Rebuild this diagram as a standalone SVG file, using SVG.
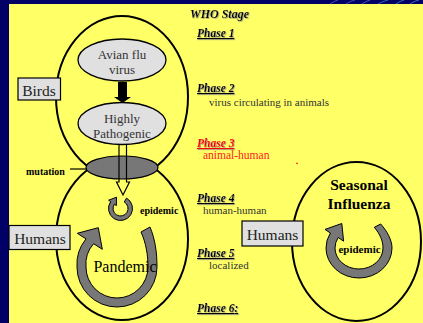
<svg xmlns="http://www.w3.org/2000/svg" width="423" height="323" viewBox="0 0 423 323">
<defs>
<filter id="sh" x="-10%" y="-30%" width="130%" height="180%">
<feDropShadow dx="0.8" dy="0.8" stdDeviation="0.3" flood-color="#888" flood-opacity="0.8"/>
</filter>
</defs>
<style>
.serif{font-family:"Liberation Serif","Times New Roman",serif}
.big{fill:none;stroke:#000;stroke-width:2}
.node{fill:#e0e0e0;stroke:#000;stroke-width:1.3}
.lbl{font-family:"Liberation Serif","Times New Roman",serif;font-size:13px;fill:#333;text-anchor:middle}
.box{fill:#e0e0e0;stroke:#000;stroke-width:1.2}
.boxt{font-family:"Liberation Serif","Times New Roman",serif;font-size:15.5px;fill:#222}
.ph{font-family:"Liberation Serif","Times New Roman",serif;font-size:11.5px;font-weight:bold;font-style:italic;text-decoration:underline;fill:#000}
.desc{font-family:"Liberation Serif","Times New Roman",serif;font-size:11px;fill:#333}
.ring{fill:#777;stroke:#000;stroke-width:1}
.bsm{font-family:"Liberation Serif","Times New Roman",serif;font-weight:bold;fill:#000}
</style>
<rect x="0" y="0" width="423" height="323" fill="#000066"/>
<g stroke-width="0.8" fill="none" opacity="0.7">
<path d="M330,4 Q334,1 338,0" stroke="#9977dd"/>
<path d="M346,4 Q350,1 355,0" stroke="#9977dd"/>
<path d="M362,4 Q366,1 370,0" stroke="#8899ee"/>
<path d="M378,4 Q383,1 388,0" stroke="#55bbdd"/>
<path d="M396,4 Q400,1 404,0" stroke="#55ccdd"/>
<path d="M410,4 Q414,1 419,0" stroke="#66ccdd"/>
</g>
<rect x="9" y="4" width="414" height="319" fill="#ffff66"/>

<g id="birds-region">
<ellipse class="big" cx="122" cy="97" rx="66" ry="81"/>
</g>
<g id="humans-region">
<ellipse class="big" cx="122" cy="239" rx="66" ry="81"/>
</g>
<g id="seasonal-region">
<ellipse class="big" cx="356.5" cy="241.5" rx="64.5" ry="79.5"/>
<text class="bsm" font-size="15.5px" x="359" y="190" text-anchor="middle">Seasonal</text>
<text class="bsm" font-size="15.5px" x="359" y="209" text-anchor="middle">Influenza</text>
</g>

<g id="mutation">
<ellipse cx="122" cy="167.5" rx="36" ry="11.5" fill="#777" stroke="#000" stroke-width="1.2"/>
<text class="bsm" font-size="10px" x="26" y="175">mutation</text>
</g>

<g id="avian">
<ellipse class="node" cx="122" cy="60" rx="44" ry="21"/>
<text class="lbl" x="122" y="59">Avian flu</text>
<text class="lbl" x="122" y="74">virus</text>
</g>
<g id="pathogenic">
<ellipse class="node" cx="122" cy="123.5" rx="44" ry="21"/>
<text class="lbl" x="122" y="123">Highly</text>
<text class="lbl" x="122" y="138">Pathogenic</text>
</g>

<g id="birds-box">
<rect class="box" x="18" y="78" width="42.5" height="22"/>
<text class="boxt" x="39" y="95.5" text-anchor="middle">Birds</text>
</g>
<g id="humans-box-left">
<rect class="box" x="9" y="225.5" width="61" height="24"/>
<text class="boxt" x="40" y="244" text-anchor="middle">Humans</text>
</g>
<g id="humans-box-right">
<rect class="box" x="242" y="221" width="61" height="25"/>
<text class="boxt" x="272.5" y="240" text-anchor="middle">Humans</text>
</g>

<g id="connectors">
<path d="M118,82 L127,82 L127,97 L131,97 L122.5,103 L114,97 L118,97 Z" fill="#000"/>
<path d="M119,145 L119,182 L116.5,182 L123,195 L129.5,182 L126.5,182 L126.5,145" fill="none" stroke="#000" stroke-width="1.2"/>
<line x1="70" y1="169" x2="87" y2="169" stroke="#000" stroke-width="1.2"/>
</g>

<g id="epidemic-left">
<path class="ring" d="M126.5,198.1 A12,12 0 1,1 110.7,201.6 L108.6,200.2 L116.5,197.2 L116.4,205.6 L114.4,204.2 A7.5,7.5 0 1,0 124.25,202 Z"/>
<text class="bsm" font-size="10px" x="140" y="214">epidemic</text>
</g>

<g id="pandemic">
<path class="ring" d="M150,227 C155,239 157,252 157,267 A40,40 0 0,1 117,307 A40,40 0 0,1 77,267 A40,40 0 0,1 86,238.9 L77.3,233.3 L98.3,227.7 L102.3,249.3 L93.6,243.7 A31,31 0 0,0 86,267 A31,31 0 0,0 117,298 A31,31 0 0,0 148,267 C148,255 146,243 141,232 Z"/>
<text class="serif" font-size="16px" x="125" y="272" text-anchor="middle" fill="#000">Pandemic</text>
</g>

<g id="epidemic-right">
<path class="ring" d="M380.7,224 C387,231 392,240 392,248 A33,30 0 0,1 359,278 A33,30 0 0,1 326,248 A33,30 0 0,1 330.4,233 L325,229.4 L341.8,223.5 L343.6,241.2 L338.2,237.5 A24,21 0 0,0 335,248 A24,21 0 0,0 359,269 A24,21 0 0,0 383,248 C383,241 380,234 374.3,227.3 Z"/>
<text class="bsm" font-size="11px" x="359.5" y="253" text-anchor="middle">epidemic</text>
</g>

<g id="who-stages">
<text class="bsm" font-size="12px" font-style="italic" x="190" y="18" filter="url(#sh)">WHO Stage</text>
<text class="ph" x="197" y="37" filter="url(#sh)">Phase 1</text>
<text class="ph" x="197" y="92" filter="url(#sh)">Phase 2</text>
<text class="desc" x="209" y="106">virus circulating in animals</text>
<text class="ph" x="197" y="147" fill="#ff0000" style="fill:#ff0000" filter="url(#sh)">Phase 3</text>
<text class="desc" x="203" y="159" style="fill:#ff2222;font-size:11.5px">animal-human</text>
<circle cx="297" cy="163.3" r="0.9" fill="#ff2222"/>
<text class="ph" x="197" y="202" filter="url(#sh)">Phase 4</text>
<text class="desc" x="203" y="214">human-human</text>
<text class="ph" x="197" y="257" filter="url(#sh)">Phase 5</text>
<text class="desc" x="209" y="269">localized</text>
<text class="ph" x="197" y="312" filter="url(#sh)">Phase 6<tspan style="text-decoration:none">:</tspan></text>
</g>
</svg>
